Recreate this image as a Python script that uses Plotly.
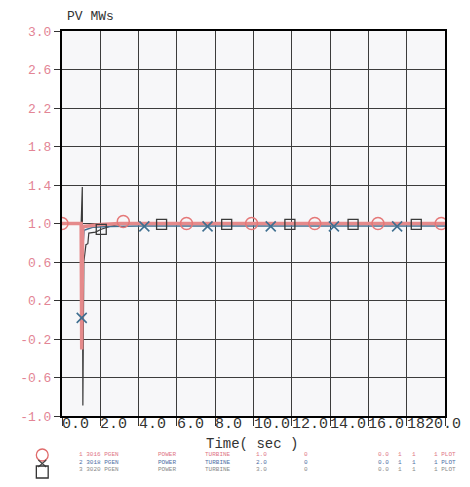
import plotly.graph_objects as go

# ---------------- data ----------------
# channel 1 (red, circles)
ch1_t = [0.0, 1.0, 1.03, 1.05, 1.08, 1.15, 1.5, 2.0, 3.0, 20.0]
ch1_v = [1.0, 1.0, -0.31, 0.40, 0.95, 0.97, 0.98, 0.99, 1.0, 1.0]
ch1_mt = [0.0, 3.2, 6.5, 9.9, 13.2, 16.5, 19.8]
ch1_mv = [1.0, 1.02, 1.0, 1.0, 1.0, 1.0, 1.0]

# channel 2 (blue, crosses)
ch2_t = [0.0, 1.0, 1.03, 1.07, 1.15, 1.6, 2.5, 4.0, 20.0]
ch2_v = [1.0, 1.0, 0.02, 0.70, 0.93, 0.96, 0.97, 0.975, 0.975]
ch2_mt = [1.03, 4.3, 7.6, 10.9, 14.2, 17.5]
ch2_mv = [0.02, 0.97, 0.97, 0.97, 0.97, 0.97]

# channel 3 (dark grey, squares)
ch3_t = [0.0, 1.0, 1.06, 1.09, 1.14, 1.25, 1.35, 1.40, 1.75, 2.05, 2.5, 3.2, 20.0]
ch3_v = [1.0, 1.0, 1.38, -0.89, 0.60, 0.78, 0.79, 0.90, 0.91, 0.94, 0.97, 1.0, 1.0]
ch3_mt = [2.05, 5.2, 8.6, 11.9, 15.2, 18.5]
ch3_mv = [0.94, 0.99, 0.99, 0.99, 0.99, 0.99]

x_ticks = [0, 2, 4, 6, 8, 10, 12, 14, 16, 18, 20]
x_tick_labels = ["0.0", "2.0", "4.0", "6.0", "8.0", "10.0", "12.0", "14.0", "16.0", "18", "20.0"]
y_ticks = [3.0, 2.6, 2.2, 1.8, 1.4, 1.0, 0.6, 0.2, -0.2, -0.6, -1.0]
y_tick_labels = ["3.0", "2.6", "2.2", "1.8", "1.4", "1.0", "0.6", "0.2", "-0.2", "-0.6", "-1.0"]

legend_rows = [
    ["1 3016 PGEN", "POWER", "TURBINE", "1.0", "0", "0.0", "1", "1", "1 PLOT"],
    ["2 3018 PGEN", "POWER", "TURBINE", "2.0", "0", "0.0", "1", "1", "1 PLOT"],
    ["3 3020 PGEN", "POWER", "TURBINE", "3.0", "0", "0.0", "1", "1", "1 PLOT"],
]
legend_colors = ["#e07585", "#4f6fa5", "#8a8a8a"]

# ---------------- geometry helpers ----------------
OFF = 8                      # default page body margin
W, H = 470 - 2 * OFF, 487 - 2 * OFF
PL, PR, PT, PB = 57, 445, 31, 416   # plot area in page pixels

def px(x):
    return (x - PL) / (PR - PL)

def py(y):
    return (PB - y) / (PB - PT)

RED = "#e58a8b"
BLUE = "#3f6f90"
DARK = "#3a3a3a"
MONO = "Liberation Mono, DejaVu Sans Mono, monospace"

fig = go.Figure()

fig.add_trace(go.Scatter(x=ch3_t, y=ch3_v, mode="lines",
                         line=dict(color=DARK, width=1.2), showlegend=False))
fig.add_trace(go.Scatter(x=ch2_t, y=ch2_v, mode="lines",
                         line=dict(color=BLUE, width=1.5), showlegend=False))
fig.add_trace(go.Scatter(x=ch1_t, y=ch1_v, mode="lines",
                         line=dict(color=RED, width=3.5), showlegend=False))
fig.add_trace(go.Scatter(x=ch1_mt, y=ch1_mv, mode="markers",
                         marker=dict(symbol="circle-open", size=12, color="#e57878",
                                     line=dict(width=1.5)), showlegend=False))
fig.add_trace(go.Scatter(x=ch2_mt, y=ch2_mv, mode="markers",
                         marker=dict(symbol="x-thin-open", size=10, color=BLUE,
                                     line=dict(width=1.6, color=BLUE)), showlegend=False))
fig.add_trace(go.Scatter(x=ch3_mt, y=ch3_mv, mode="markers",
                         marker=dict(symbol="square-open", size=10, color=DARK,
                                     line=dict(width=1.3)), showlegend=False))

annotations = []
# x tick labels (left-aligned at tick like the original plotter)
for t, lab in zip(x_ticks, x_tick_labels):
    if lab == "20.0":
        annotations.append(dict(x=t, y=py(425), xref="x", yref="paper", text=lab,
                                xanchor="right", yanchor="middle", xshift=17, borderpad=0,
                                showarrow=False, font=dict(family=MONO, size=15, color="#333")))
    else:
        annotations.append(dict(x=t, y=py(425), xref="x", yref="paper", text=lab,
                                xanchor="left", yanchor="middle", xshift=-1, borderpad=0,
                                showarrow=False, font=dict(family=MONO, size=15, color="#333")))

annotations.append(dict(x=px(60), y=py(17), xref="paper", yref="paper", text="PV MWs",
                        xanchor="left", yanchor="middle", showarrow=False,
                        font=dict(family=MONO, size=13, color="#333")))
annotations.append(dict(x=px(249), y=py(444), xref="paper", yref="paper", text="Time( sec )",
                        xanchor="center", yanchor="middle", showarrow=False,
                        font=dict(family=MONO, size=14, color="#333")))

col_x = [72, 152, 200, 252, 300, 375, 395, 410, 432]
row_y = [455, 462, 469]
for r, row in enumerate(legend_rows):
    for c, txt in enumerate(row):
        annotations.append(dict(x=px(col_x[c]), y=py(row_y[r]), xref="paper", yref="paper",
                                text=txt, xanchor="left", yanchor="middle", showarrow=False,
                                font=dict(family=MONO, size=6, color=legend_colors[r])))

shapes = [
    dict(type="circle", xref="paper", yref="paper", x0=px(31), x1=px(43), y0=py(461), y1=py(449),
         line=dict(color="#e06a6a", width=1.3)),
    dict(type="line", xref="paper", yref="paper", x0=px(33), x1=px(41), y0=py(460), y1=py(467),
         line=dict(color="#444", width=1.2)),
    dict(type="line", xref="paper", yref="paper", x0=px(41), x1=px(33), y0=py(460), y1=py(467),
         line=dict(color="#444", width=1.2)),
    dict(type="rect", xref="paper", yref="paper", x0=px(31), x1=px(43), y0=py(478), y1=py(466),
         line=dict(color="#333", width=1.3)),
]

fig.update_layout(
    width=W, height=H, autosize=False,
    margin=dict(l=PL - OFF, r=(W + OFF) - PR, t=PT - OFF, b=(H + OFF) - PB),
    paper_bgcolor="white", plot_bgcolor="#f7f7f9",
    annotations=annotations, shapes=shapes,
    xaxis=dict(range=[0, 20], tickvals=x_ticks, showticklabels=False,
               showgrid=True, gridcolor="#3c3c3c", gridwidth=1, zeroline=False,
               showline=True, linecolor="black", linewidth=2, mirror=True,
               ticks="outside", ticklen=8, tickcolor="#333", tickwidth=1),
    yaxis=dict(range=[-1.0, 3.0], tickvals=y_ticks, ticktext=y_tick_labels,
               showgrid=True, gridcolor="#3c3c3c", gridwidth=1, zeroline=False,
               showline=True, linecolor="black", linewidth=2, mirror=True,
               ticks="outside", ticklen=6, tickcolor="#333", tickwidth=1,
               tickfont=dict(family=MONO, size=13, color="#e38595")),
)

fig.write_html("out.html")
